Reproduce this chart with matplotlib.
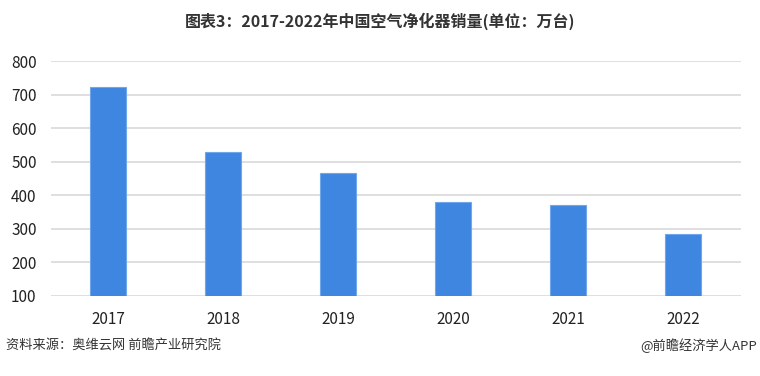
import matplotlib.pyplot as plt

plt.rcParams['font.family'] = ['Noto Sans CJK SC', 'DejaVu Sans']

# Données
annees = ['2017', '2018', '2019', '2020', '2021', '2022']
ventes = [724, 529, 466, 380, 370, 284]
y_ticks = [100, 200, 300, 400, 500, 600, 700, 800]

fig = plt.figure(figsize=(7.6, 3.76), dpi=100)
ax = fig.add_axes([50.5 / 760, 1 - 296 / 376, 690 / 760, 235 / 376])

ax.bar(annees, ventes, width=0.31, color='#3F86E0', edgecolor='#6FA6EC', linewidth=0.8,
       zorder=3)

ax.set_ylim(100, 800)
ax.set_xlim(-0.5, len(annees) - 0.5)
ax.set_yticks(y_ticks)
ax.set_yticklabels([str(v) for v in y_ticks], fontsize=11, color='#222222')
ax.grid(axis='y', color='#D9D9D9', linewidth=1.2, zorder=0)
ax.tick_params(axis='y', length=0, pad=10)
ax.tick_params(axis='x', length=0, pad=11, labelsize=11, labelcolor='#222222')
for spine in ax.spines.values():
    spine.set_visible(False)

fig.text(0.5, 1 - 21 / 376, '图表3：2017-2022年中国空气净化器销量(单位：万台)', ha='center', va='center',
         fontsize=11.5, fontweight='bold', color='#333333')
fig.text(6 / 760, 1 - 346 / 376, '资料来源：奥维云网 前瞻产业研究院', ha='left', va='center',
         fontsize=9.5, color='#333333')
fig.text(757 / 760, 1 - 346 / 376, '@前瞻经济学人APP', ha='right', va='center',
         fontsize=9.5, color='#333333')

fig.savefig('out.png', dpi=100)
